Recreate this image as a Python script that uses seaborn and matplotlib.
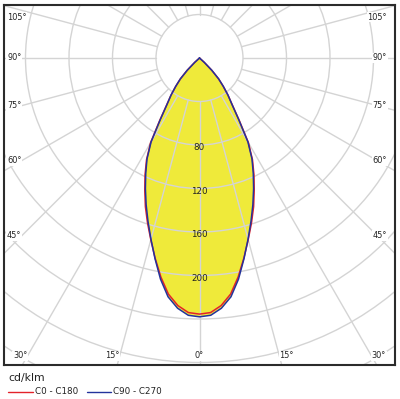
import numpy as np
import pandas as pd
import matplotlib
matplotlib.use("Agg")
import matplotlib.pyplot as plt
from matplotlib.patches import Circle
from matplotlib.lines import Line2D
import seaborn as sns

sns.set_style("white")
plt.rcParams['font.family'] = ['DejaVu Sans']

# luminous intensity (cd/klm) vs gamma angle
gamma = [0, 2.5, 5, 7.5, 10, 12.5, 15, 17.5, 20, 22.5, 25,
         27.5, 30, 32.5, 35, 37.5, 40, 42.5, 45, 47.5, 50]
c0_c180 = [235.5, 234.3, 228.5, 219, 204.5, 188.5, 173, 159, 145.5, 131.5, 118.5,
           105.5, 90, 68, 52.5, 43, 34, 26, 16, 6, 0]
c90_c270 = [238, 236.8, 231, 221.5, 206.5, 189, 172.5, 157.5, 143.5, 130, 117,
            104.5, 89, 67, 52, 43, 34, 26, 16, 6, 0]

ring_values = [40, 80, 120, 160, 200, 240, 280, 320]
ring_labels = [80, 120, 160, 200]
angle_labels = [0, 15, 30, 45, 60, 75, 90, 105]
series_names = ['C0 - C180', 'C90 - C270']
colors = {'C0 - C180': '#e3222a', 'C90 - C270': '#23339c'}
fill_color = '#efea3a'
grid_color = '#d4d4d4'

# pixel geometry of the polar diagram
W, H = 400, 399
cx, cy = 199.5, 58.0
scale = 1.0875  # px per cd/klm
left_px, right_px, top_px, bot_px = 4, 395, 5, 365


def px_to_data(px, py):
    return (px - cx) / scale, -(py - cy) / scale


def closed_curve(values):
    g = np.radians(gamma)
    v = np.array(values, dtype=float)
    xl, yl = -v * np.sin(g), -v * np.cos(g)
    xr, yr = v * np.sin(g), -v * np.cos(g)
    x = np.concatenate([xl[::-1], xr[1:]])
    y = np.concatenate([yl[::-1], yr[1:]])
    return x, y


rows = []
for name, vals in zip(series_names, [c0_c180, c90_c270]):
    x, y = closed_curve(vals)
    for i in range(len(x)):
        rows.append({'series': name, 'x': x[i], 'y': y[i], 'order': i})
df = pd.DataFrame(rows)

fig = plt.figure(figsize=(W / 100, H / 100), dpi=100)
ax = fig.add_axes([left_px / W, (H - bot_px) / H,
                   (right_px - left_px) / W, (bot_px - top_px) / H])

x0, y0 = px_to_data(left_px, top_px)
x1, y1 = px_to_data(right_px, bot_px)
ax.set_xlim(x0, x1)
ax.set_ylim(y1, y0)

# yellow fill under the curves
for name in series_names:
    d = df[df['series'] == name]
    ax.fill(d['x'], d['y'], color=fill_color, lw=0, zorder=1)

# grid: rings and spokes
for r in ring_values:
    ax.add_patch(Circle((0, 0), r, fill=False, ec=grid_color, lw=1.0, zorder=2))
for a in range(0, 360, 15):
    t = np.radians(a)
    ax.plot([40 * np.sin(t), 500 * np.sin(t)], [-40 * np.cos(t), -500 * np.cos(t)],
            color=grid_color, lw=1.0, zorder=2)

sns.lineplot(data=df, x='x', y='y', hue='series', palette=colors, units='series',
             estimator=None, sort=False, lw=1.1, legend=False, ax=ax, zorder=3)

for r in ring_labels:
    ax.text(0, -r - 2.5, str(r), ha='center', va='center', fontsize=6.3,
            color='#222222', zorder=4)

# angle labels where the spokes meet the frame
bbox = dict(fc='white', ec='none', pad=0.6)
for a in angle_labels:
    t = np.radians(a)
    for side in (-1, 1):
        if a == 0 and side == 1:
            continue
        if a >= 45:
            py = cy + 177.5 / np.tan(t)
            py = min(max(py, 17), 356)
            if side < 0:
                px, ha = 7, 'left'
            else:
                px, ha = 387, 'right'
        else:
            py = 356
            px = cx + side * (py - cy) * np.tan(t)
            ha = 'center' if a == 0 else ('right' if side < 0 else 'left')
        tx, ty = px_to_data(px, py)
        ax.text(tx, ty, f'{a}°', ha=ha, va='center', fontsize=5.9,
                color='#222222', bbox=bbox, zorder=5)

ax.set_xticks([])
ax.set_yticks([])
ax.set_xlabel('')
ax.set_ylabel('')
for s in ax.spines.values():
    s.set_visible(True)
    s.set_color('#2b2b2b')
    s.set_linewidth(1.5)

# legend under the diagram
fig.text(8 / W, (H - 378) / H, 'cd/klm', fontsize=7.8, va='center', ha='left', color='#222222')
ly = (H - 392) / H
fig.add_artist(Line2D([8 / W, 33 / W], [ly, ly], color=colors['C0 - C180'], lw=1.0))
fig.text(35 / W, ly, 'C0 - C180', fontsize=6.3, va='center', ha='left', color='#222222')
fig.add_artist(Line2D([87 / W, 111 / W], [ly, ly], color=colors['C90 - C270'], lw=1.0))
fig.text(113 / W, ly, 'C90 - C270', fontsize=6.3, va='center', ha='left', color='#222222')

fig.savefig('out.png', dpi=100, facecolor='white')
